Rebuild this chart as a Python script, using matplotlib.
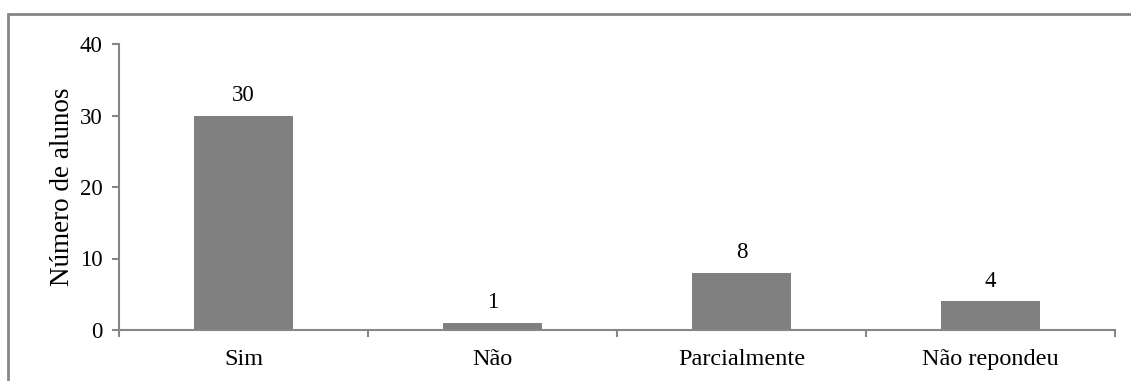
import matplotlib
matplotlib.use("Agg")
import matplotlib.pyplot as plt
import matplotlib.patches as mpatches
import numpy as np

categories = ["Sim", "Não", "Parcialmente", "Não repondeu"]
counts = [30, 1, 8, 4]
y_ticks = [0, 10, 20, 30, 40]

plt.rcParams["font.family"] = ["Liberation Serif", "DejaVu Serif"]

W, H = 1131, 381
fig = plt.figure(figsize=(W / 100, H / 100), dpi=100)
ax = fig.add_axes([119 / W, 1 - 330 / H, (1115 - 119) / W, (330 - 44) / H])

# outer chart-area border (cut off on right and bottom)
fig.patches.append(mpatches.Rectangle((8 / W, -0.2), 1.2, 1.2 - 14 / H,
                                      transform=fig.transFigure, fill=False,
                                      edgecolor="#868686", linewidth=2, zorder=0))

x = np.arange(len(categories))
ax.bar(x, counts, width=0.4, color="#808080", zorder=2)
for xi, v in zip(x, counts):
    ax.annotate(str(v), (xi, v), xytext=(0, 7), textcoords="offset points",
                ha="center", va="bottom", fontsize=16.5)

ax.set_xlim(-0.5, len(categories) - 0.5)
ax.set_ylim(0, 40)
ax.set_yticks(y_ticks)
ax.set_xticks(x)
ax.set_xticklabels(categories, fontsize=17.5)
ax.set_xticks(np.arange(len(categories) + 1) - 0.5, minor=True)
ax.tick_params(axis="x", which="major", length=0, pad=14)
ax.tick_params(axis="x", which="minor", length=5, width=1.5, color="#868686", direction="out")
ax.tick_params(axis="y", length=5, width=1.5, color="#868686", direction="out",
               labelsize=16.5, pad=7)
ax.set_ylabel("Número de alunos", fontsize=19.5, labelpad=3)

for s in ["top", "right"]:
    ax.spines[s].set_visible(False)
for s in ["left", "bottom"]:
    ax.spines[s].set_color("#868686")
    ax.spines[s].set_linewidth(1.5)

fig.savefig("out.png", dpi=100)
